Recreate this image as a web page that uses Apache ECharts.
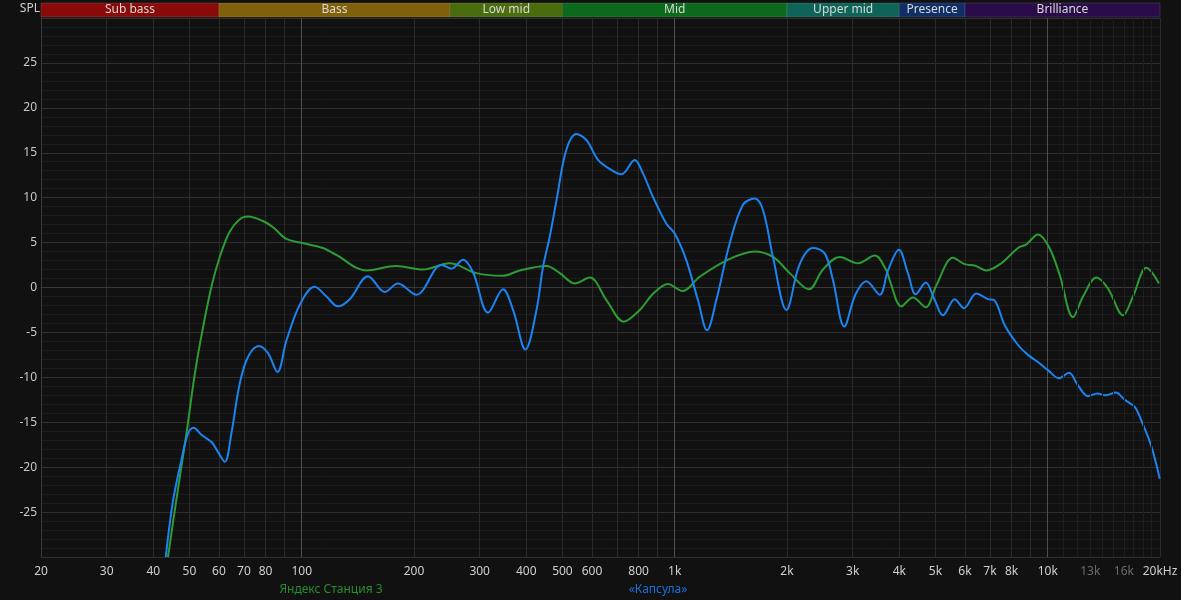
<!DOCTYPE html>
<html>
<head>
<meta charset="utf-8">
<script src="https://cdn.jsdelivr.net/npm/echarts@6/dist/echarts.min.js"></script>
<style>
html,body{margin:0;padding:0;background:#111111;}
#chart{width:1181px;height:600px;}
</style>
</head>
<body>
<div id="chart"></div>
<script>
// ---- data ----
const seriesNames = ['Яндекс Станция 3', '«Капсула»'];

const greenFreqs = [43.8, 46.1, 49.1, 51.7, 54.4, 57.3, 60.3, 64.1, 68.2, 71.8, 78.7, 83.8, 91, 99, 114, 124, 149, 179, 211, 249, 294, 346, 384, 453, 492, 539, 592, 656, 730, 806, 875, 959, 1049, 1167, 1376, 1638, 1834, 2034, 2291, 2497, 2769, 3100, 3438, 3694, 3770, 4052, 4353, 4708, 5029, 5572, 5988, 6371, 6844, 7511, 8325, 8763, 9417, 10079, 10767, 11690, 12435, 13510, 14504, 15915, 16930, 18390, 19880];
const greenValues = [-30, -23.7, -16.2, -9.6, -4.4, 0.1, 3.4, 6.2, 7.6, 7.9, 7.4, 6.7, 5.4, 5.0, 4.4, 3.6, 1.9, 2.4, 2.0, 2.7, 1.6, 1.3, 1.9, 2.4, 1.6, 0.45, 1.1, -1.4, -3.8, -2.5, -0.7, 0.4, -0.4, 1.2, 3.0, 4.0, 3.4, 1.6, -0.2, 2.0, 3.4, 2.7, 3.55, 1.9, 0.8, -2.1, -1.1, -2.2, 0.26, 3.3, 2.6, 2.45, 1.9, 2.7, 4.4, 4.8, 5.9, 4.5, 1.4, -3.3, -1.0, 1.1, -0.1, -3.1, -1.0, 2.2, 0.45];

const blueFreqs = [43.2, 45.2, 47.6, 49.6, 51.3, 53.8, 57.3, 59.6, 62.2, 64.8, 68.2, 71.8, 76.8, 81.2, 86.1, 91, 99, 108.3, 116.5, 125, 134.5, 150.6, 167, 181, 203, 237, 252, 270.6, 288, 316, 346.5, 368.6, 398, 426, 443.6, 462, 482, 512, 545, 580, 623, 669, 720, 781, 822, 874, 950, 1000, 1075, 1154, 1221, 1293, 1404, 1524, 1638, 1725, 1834, 1993, 2163, 2348, 2524, 2657, 2848, 3050, 3265, 3545, 3731, 3990, 4221, 4427, 4708, 4977, 5238, 5631, 5964, 6434, 6917, 7179, 7670, 8325, 8854, 9417, 10016, 10720, 11403, 12056, 12824, 13590, 14312, 15213, 16085, 17110, 17820, 18970, 19970];
const blueValues = [-30, -23.7, -19.2, -16.2, -15.6, -16.4, -17.2, -18.3, -19.4, -16.2, -10.7, -7.7, -6.5, -7.3, -9.4, -5.9, -1.85, 0.07, -1.0, -2.1, -1.3, 1.26, -0.5, 0.45, -0.8, 2.5, 2.1, 3.1, 1.7, -2.8, -0.2, -2.5, -6.9, -2.5, 2.3, 5.6, 9.7, 15.3, 17.1, 16.4, 14.2, 13.2, 12.6, 14.2, 12.7, 10.1, 7.1, 6.0, 3.0, -1.4, -4.75, -1.4, 4.9, 9.2, 9.9, 8.6, 3.4, -2.5, 2.6, 4.4, 3.8, 0.8, -4.35, -0.8, 0.7, -0.8, 1.9, 4.2, 1.56, -0.75, 0.56, -1.4, -3.1, -1.3, -2.3, -0.67, -1.3, -1.4, -4.2, -6.4, -7.5, -8.3, -9.2, -10.1, -9.5, -10.9, -12.1, -11.8, -12.0, -11.7, -12.5, -13.3, -14.8, -17.7, -21.3];

const bandNames = ['Sub bass', 'Bass', 'Low mid', 'Mid', 'Upper mid', 'Presence', 'Brilliance'];
const bandStarts = [20, 60, 250, 500, 2000, 4000, 6000];
const bandEnds = [60, 250, 500, 2000, 4000, 6000, 20000];
const bandColors = ['#8a0a0a', '#806008', '#4a6c0c', '#0c6a1c', '#0e6458', '#0f2f66', '#2a0c4a'];

const xTickLabels = [20, 30, 40, 50, 60, 70, 80, 100, 200, 300, 400, 500, 600, 800, 1000, 2000, 3000, 4000, 5000, 6000, 7000, 8000, 10000, 13000, 16000, 20000];
const dimTickLabels = [13000, 16000];
const gridFreqs = [20, 30, 40, 50, 60, 70, 80, 90, 100, 200, 300, 400, 500, 600, 700, 800, 900, 1000, 2000, 3000, 4000, 5000, 6000, 7000, 8000, 9000, 10000, 20000];
const fineGridFreqs = [11000, 12000, 13000, 14000, 15000, 16000, 17000, 18000, 19000];

// ---- build ----
const zip = (a, b) => a.map((v, i) => [v, b[i]]);
const FONT = '"Noto Sans", "DejaVu Sans", sans-serif';

const gridColors = ['#2b2b2b','#2b2b2b','#2b2b2b','#2b2b2b','#2b2b2b','#2b2b2b','#2b2b2b','#2b2b2b','#505050'];

const chart = echarts.init(document.getElementById('chart'));
chart.setOption({
  backgroundColor: '#111111',
  animation: false,
  grid: [
    {left: 41, right: 21, top: 18, bottom: 43, containLabel: false},
    {left: 41, right: 21, top: 3, height: 14, containLabel: false}
  ],
  xAxis: [
    {
      type: 'log', logBase: 10, min: 20, max: 20000, gridIndex: 0,
      axisLine: {show: true, lineStyle: {color: '#3a3a3a', width: 1}},
      axisTick: {show: false, customValues: gridFreqs},
      axisLabel: {
        show: true, customValues: xTickLabels, margin: 9, hideOverlap: false,
        fontFamily: FONT, fontSize: 12,
        color: (v) => dimTickLabels.indexOf(Number(v)) >= 0 ? '#6a6a6a' : '#cfcfcf',
        formatter: (v) => {
          v = Math.round(Number(v));
          if (v === 20000) return '20kHz';
          return v >= 1000 ? (v / 1000) + 'k' : String(v);
        }
      },
      splitLine: {show: true, lineStyle: {color: gridColors, width: 1}},
      minorSplitLine: {show: false}
    },
    {
      type: 'log', logBase: 10, min: 20, max: 20000, gridIndex: 1, show: false
    }
  ],
  yAxis: [
    {
      type: 'value', min: -30, max: 30, interval: 5, gridIndex: 0,
      axisLine: {show: true, lineStyle: {color: '#3a3a3a'}},
      axisTick: {show: false},
      minorTick: {show: false, splitNumber: 5},
      axisLabel: {
        margin: 4, fontFamily: FONT, fontSize: 12, color: '#c8c8c8',
        formatter: (v) => (Math.abs(v) === 30 ? '' : String(v))
      },
      splitLine: {show: true, lineStyle: {color: '#303030', width: 1}},
      minorSplitLine: {show: true, lineStyle: {color: '#1c1c1c', width: 1}}
    },
    {type: 'value', min: 0, max: 1, gridIndex: 1, show: false}
  ],
  graphic: [
    {type: 'text', x: 40, y: 9, style: {text: 'SPL', fill: '#cfcfcf', font: '12px ' + FONT, textAlign: 'right', textVerticalAlign: 'middle'}},
    {type: 'text', x: 331, y: 590, style: {text: seriesNames[0], fill: '#2a8c2e', font: '12px ' + FONT, textAlign: 'center', textVerticalAlign: 'middle'}},
    {type: 'text', x: 658, y: 590, style: {text: seriesNames[1], fill: '#1a70dc', font: '12px ' + FONT, textAlign: 'center', textVerticalAlign: 'middle'}}
  ],
  series: [
    {
      name: 'bands', type: 'line', xAxisIndex: 1, yAxisIndex: 1, data: [], silent: true,
      markArea: {
        silent: true,
        data: bandNames.map((n, i) => [
          {name: n, xAxis: bandStarts[i], itemStyle: {color: bandColors[i], borderColor: 'rgba(255,255,255,0.12)', borderWidth: 1}},
          {xAxis: bandEnds[i]}
        ]),
        label: {show: true, position: 'inside', color: '#d8d8d8', fontFamily: FONT, fontSize: 12}
      }
    },
    {
      name: 'finegrid', type: 'line', data: [], silent: true,
      markLine: {
        silent: true, symbol: 'none', label: {show: false},
        lineStyle: {color: '#1e1e1e', type: 'solid', width: 1},
        data: fineGridFreqs.map(f => ({xAxis: f}))
      }
    },
    {
      name: seriesNames[0], type: 'line', data: zip(greenFreqs, greenValues),
      showSymbol: false, smooth: 0.35, clip: true,
      lineStyle: {color: '#2e9c34', width: 2}
    },
    {
      name: seriesNames[1], type: 'line', data: zip(blueFreqs, blueValues),
      showSymbol: false, smooth: 0.35, clip: true,
      lineStyle: {color: '#1a84f2', width: 2}
    }
  ]
});
</script>
</body>
</html>
